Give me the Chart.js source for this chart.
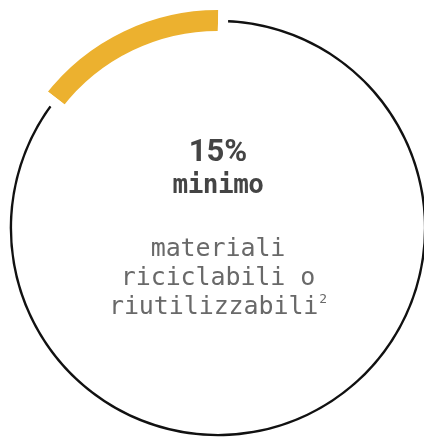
<!DOCTYPE html>
<html>
<head>
<meta charset="utf-8">
<script src="https://cdn.jsdelivr.net/npm/chart.js@4"></script>
<style>
  html, body { margin:0; padding:0; background:#fff; }
  .wrap { position:relative; width:424px; height:437px; overflow:hidden; }
  .wrap canvas { position:absolute; left:0; top:0; }
  .txt { position:absolute; left:0; width:436px; text-align:center; white-space:nowrap; }
  .big { top:134.6px; font:700 31px/31px Roboto, sans-serif; color:#444; }
  .sub { top:170.7px; font:700 26px/26px "DejaVu Sans Mono", monospace; color:#444; letter-spacing:-0.5px; }
  .desc { top:232.8px; font:400 25px/29px "DejaVu Sans Mono", monospace; color:#696969; letter-spacing:-0.1px; }
  .desc sup { font-size:13px; vertical-align:0; position:relative; top:-11px; margin-left:1px; }
</style>
</head>
<body>
<div class="wrap">
  <canvas id="lineChart" width="424" height="437"></canvas>
  <canvas id="shareChart" width="424" height="437"></canvas>
  <div class="txt big" id="valueLabel"></div>
  <div class="txt sub">minimo</div>
  <div class="txt desc">materiali<br>riciclabili o<br>riutilizzabili<sup>2</sup></div>
</div>
<script>
const categories = ['materiali riciclabili o riutilizzabili', 'altro'];
const shares = [15, 85];

const ROTATION = -52.6;   // deg, so the yellow arc ends at 12 o'clock
const PAD = { left:12, top:19, right:0, bottom:0 };

document.getElementById('valueLabel').textContent = shares[0] + '%';

const baseOpts = (radius, cutout) => ({
  responsive:false, animation:false, events:[],
  rotation:ROTATION, radius, cutout,
  layout:{ padding:PAD },
  plugins:{ legend:{display:false}, tooltip:{enabled:false} }
});

// thin black circle for the remaining share
new Chart(document.getElementById('lineChart').getContext('2d'), {
  type:'doughnut',
  data:{ labels:categories, datasets:[{
    data:shares, backgroundColor:['rgba(0,0,0,0)','#111'], borderWidth:0, clip:false
  }]},
  options: baseOpts(208.3, (205.9/208.3*100)+'%')
});

// thick yellow arc; white borders cut the gaps at both ends
new Chart(document.getElementById('shareChart').getContext('2d'), {
  type:'doughnut',
  data:{ labels:categories, datasets:[{
    data:shares, backgroundColor:['#ecb12f','rgba(0,0,0,0)'],
    borderColor:'#fff', borderWidth:10, clip:false
  }]},
  options: baseOpts(223, (192/223*100)+'%')
});
</script>
</body>
</html>
